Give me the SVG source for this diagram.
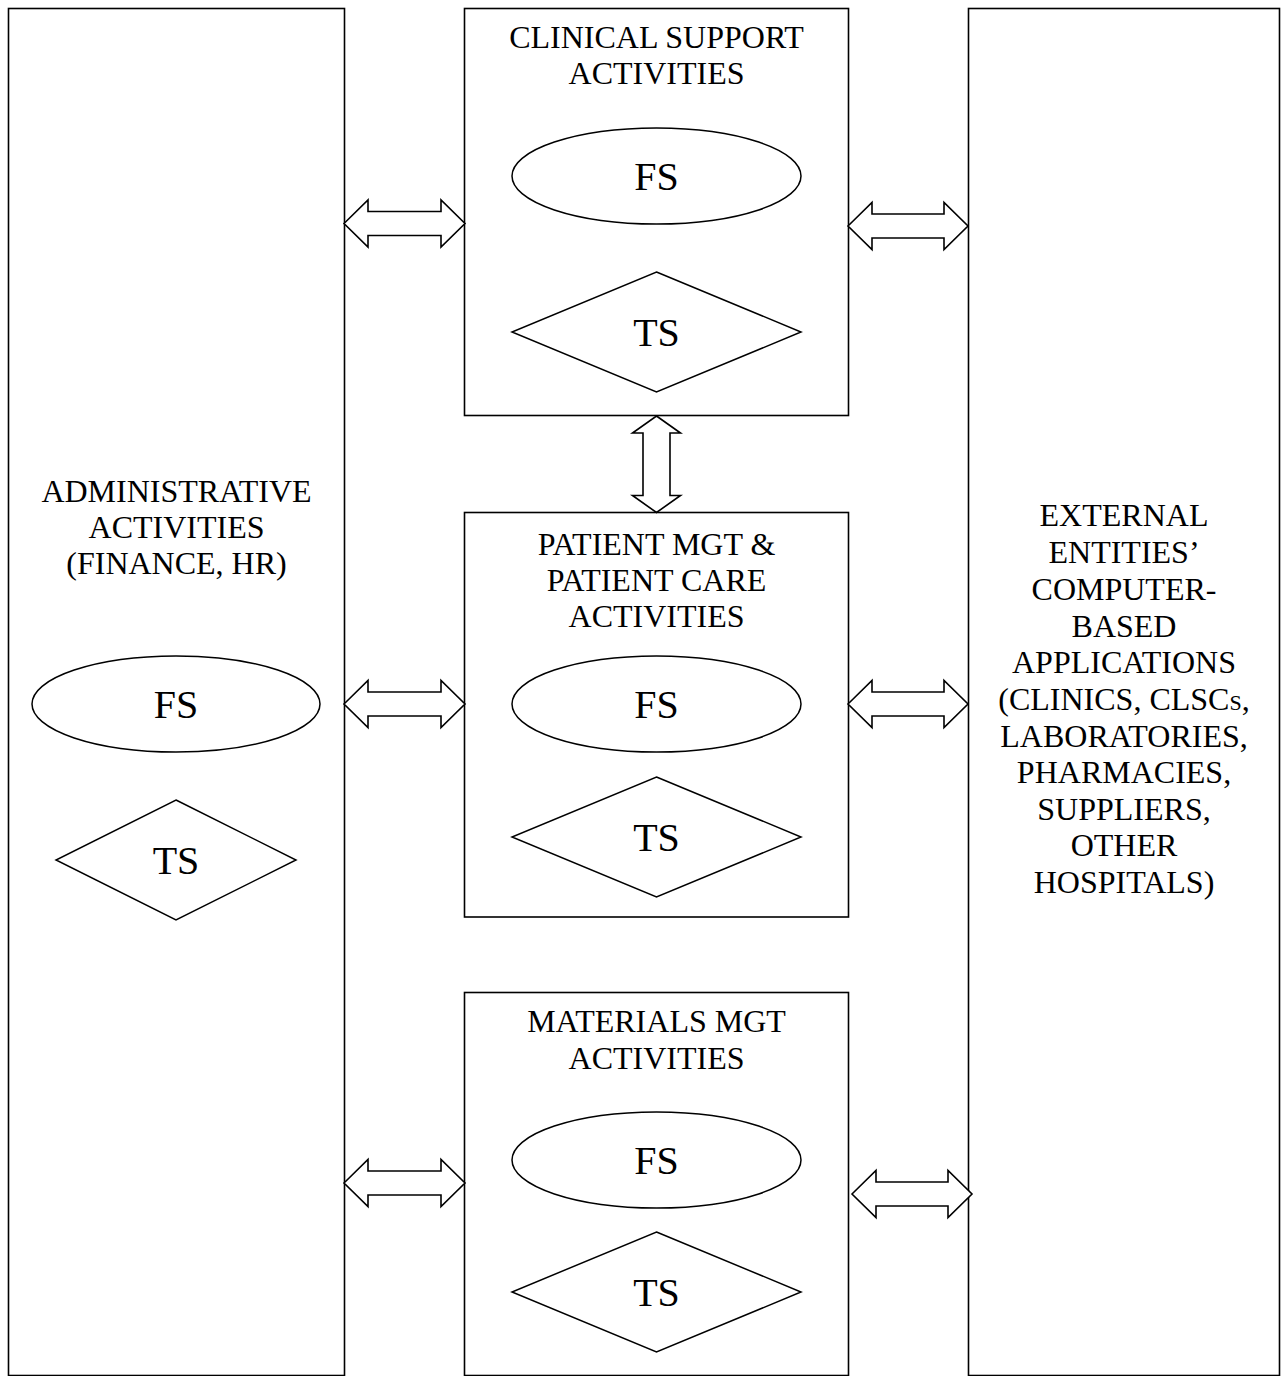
<svg xmlns="http://www.w3.org/2000/svg" width="1282" height="1376" viewBox="0 0 1282 1376">
<style>
.box{fill:#fff;stroke:#000;stroke-width:1.6}
.shape{fill:#fff;stroke:#000;stroke-width:1.5}
.arrow{fill:#fff;stroke:#000;stroke-width:1.6;stroke-linejoin:miter}
.lbl{font-family:"Liberation Serif","Times New Roman",serif;font-size:32px;fill:#000;text-anchor:middle}
.big{font-family:"Liberation Serif","Times New Roman",serif;font-size:40px;fill:#000;text-anchor:middle}
</style>
<rect width="1282" height="1376" fill="#fff"/>
<g id="admin">
<rect class="box" x="8.5" y="8.5" width="336" height="1367"/>
<text class="lbl" x="176.5" y="502">ADMINISTRATIVE</text>
<text class="lbl" x="176.5" y="538">ACTIVITIES</text>
<text class="lbl" x="176.5" y="574">(FINANCE, HR)</text>
<ellipse class="shape" cx="176" cy="704" rx="144" ry="48"/>
<text class="big" x="176" y="718">FS</text>
<polygon class="shape" points="176,800 296,860 176,920 56,860"/>
<text class="big" x="176" y="874">TS</text>
</g>
<g id="clinical">
<rect class="box" x="464.5" y="8.5" width="384" height="407"/>
<text class="lbl" x="656.5" y="47.5">CLINICAL SUPPORT</text>
<text class="lbl" x="656.5" y="83.5">ACTIVITIES</text>
<ellipse class="shape" cx="656.5" cy="176" rx="144.5" ry="48"/>
<text class="big" x="656.5" y="190">FS</text>
<polygon class="shape" points="656.5,272 801,332 656.5,392 512,332"/>
<text class="big" x="656.5" y="346">TS</text>
</g>
<g id="patient">
<rect class="box" x="464.5" y="512.5" width="384" height="404.5"/>
<text class="lbl" x="656.5" y="555">PATIENT MGT &amp;</text>
<text class="lbl" x="656.5" y="591">PATIENT CARE</text>
<text class="lbl" x="656.5" y="627">ACTIVITIES</text>
<ellipse class="shape" cx="656.5" cy="704" rx="144.5" ry="48"/>
<text class="big" x="656.5" y="718">FS</text>
<polygon class="shape" points="656.5,777 801,837 656.5,897 512,837"/>
<text class="big" x="656.5" y="851">TS</text>
</g>
<g id="materials">
<rect class="box" x="464.5" y="992.5" width="384" height="383"/>
<text class="lbl" x="656.5" y="1032">MATERIALS MGT</text>
<text class="lbl" x="656.5" y="1069">ACTIVITIES</text>
<ellipse class="shape" cx="656.5" cy="1160" rx="144.5" ry="48"/>
<text class="big" x="656.5" y="1174">FS</text>
<polygon class="shape" points="656.5,1232 801,1292 656.5,1352 512,1292"/>
<text class="big" x="656.5" y="1306">TS</text>
</g>
<g id="external">
<rect class="box" x="968.5" y="8.5" width="311" height="1367"/>
<text class="lbl" x="1124" y="526">EXTERNAL</text>
<text class="lbl" x="1124" y="563">ENTITIES’</text>
<text class="lbl" x="1124" y="600">COMPUTER-</text>
<text class="lbl" x="1124" y="636.5">BASED</text>
<text class="lbl" x="1124" y="673">APPLICATIONS</text>
<text class="lbl" x="1124" y="710">(CLINICS, CLSC<tspan style="font-variant:small-caps">s</tspan>,</text>
<text class="lbl" x="1124" y="746.5">LABORATORIES,</text>
<text class="lbl" x="1124" y="783">PHARMACIES,</text>
<text class="lbl" x="1124" y="820">SUPPLIERS,</text>
<text class="lbl" x="1124" y="856">OTHER</text>
<text class="lbl" x="1124" y="893">HOSPITALS)</text>
</g>
<g id="connectors">
<path class="arrow" d="M344 223.5 L368 200 L368 211.5 L441 211.5 L441 200 L465 223.5 L441 247 L441 235.5 L368 235.5 L368 247 Z"/>
<path class="arrow" d="M848 226 L872 202.5 L872 214 L944 214 L944 202.5 L968 226 L944 249.5 L944 238 L872 238 L872 249.5 Z"/>
<path class="arrow" d="M344 704 L368 680.5 L368 692 L441 692 L441 680.5 L465 704 L441 727.5 L441 716 L368 716 L368 727.5 Z"/>
<path class="arrow" d="M848 704 L872 680.5 L872 692 L944 692 L944 680.5 L968 704 L944 727.5 L944 716 L872 716 L872 727.5 Z"/>
<path class="arrow" d="M344 1183 L368 1159.5 L368 1171 L441 1171 L441 1159.5 L465 1183 L441 1206.5 L441 1195 L368 1195 L368 1206.5 Z"/>
<path class="arrow" d="M852 1194 L876 1170.5 L876 1182 L948 1182 L948 1170.5 L972 1194 L948 1217.5 L948 1206 L876 1206 L876 1217.5 Z"/>
<path class="arrow" d="M656.5 416 L680.5 433 L670 433 L670 495.5 L680.5 495.5 L656.5 512.5 L632.5 495.5 L643 495.5 L643 433 L632.5 433 Z"/>
</g>
</svg>
